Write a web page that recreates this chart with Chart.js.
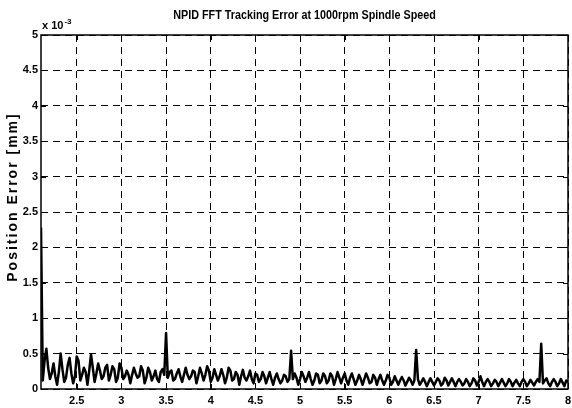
<!DOCTYPE html>
<html><head><meta charset="utf-8">
<script src="https://cdn.jsdelivr.net/npm/chart.js@4"></script>
<style>html,body{margin:0;padding:0;background:#fff}</style>
</head><body>
<canvas id="c" width="572" height="408" style="display:block;width:572px;height:408px"></canvas>
<script>
const chartTitle = 'NPID FFT Tracking Error at 1000rpm Spindle Speed';
const yAxisLabel = 'Position Error [mm]';
const yScaleNote = ['x 10', '-3'];

const frequency = [
 2.10,2.12,2.14,2.16,2.18,2.20,2.22,2.24,2.26,2.28,
 2.30,2.32,2.34,2.36,2.38,2.40,2.42,2.44,2.46,2.48,
 2.50,2.52,2.54,2.56,2.58,2.60,2.62,2.64,2.66,2.68,
 2.70,2.72,2.74,2.76,2.78,2.80,2.82,2.84,2.86,2.88,
 2.90,2.92,2.94,2.96,2.98,3.00,3.02,3.04,3.06,3.08,
 3.10,3.12,3.14,3.16,3.18,3.20,3.22,3.24,3.26,3.28,
 3.30,3.32,3.34,3.36,3.38,3.40,3.42,3.44,3.46,3.48,
 3.50,3.52,3.54,3.56,3.58,3.60,3.62,3.64,3.66,3.68,
 3.70,3.72,3.74,3.76,3.78,3.80,3.82,3.84,3.86,3.88,
 3.90,3.92,3.94,3.96,3.98,4.00,4.02,4.04,4.06,4.08,
 4.10,4.12,4.14,4.16,4.18,4.20,4.22,4.24,4.26,4.28,
 4.30,4.32,4.34,4.36,4.38,4.40,4.42,4.44,4.46,4.48,
 4.50,4.52,4.54,4.56,4.58,4.60,4.62,4.64,4.66,4.68,
 4.70,4.72,4.74,4.76,4.78,4.80,4.82,4.84,4.86,4.88,
 4.90,4.92,4.94,4.96,4.98,5.00,5.02,5.04,5.06,5.08,
 5.10,5.12,5.14,5.16,5.18,5.20,5.22,5.24,5.26,5.28,
 5.30,5.32,5.34,5.36,5.38,5.40,5.42,5.44,5.46,5.48,
 5.50,5.52,5.54,5.56,5.58,5.60,5.62,5.64,5.66,5.68,
 5.70,5.72,5.74,5.76,5.78,5.80,5.82,5.84,5.86,5.88,
 5.90,5.92,5.94,5.96,5.98,6.00,6.02,6.04,6.06,6.08,
 6.10,6.12,6.14,6.16,6.18,6.20,6.22,6.24,6.26,6.28,
 6.30,6.32,6.34,6.36,6.38,6.40,6.42,6.44,6.46,6.48,
 6.50,6.52,6.54,6.56,6.58,6.60,6.62,6.64,6.66,6.68,
 6.70,6.72,6.74,6.76,6.78,6.80,6.82,6.84,6.86,6.88,
 6.90,6.92,6.94,6.96,6.98,7.00,7.02,7.04,7.06,7.08,
 7.10,7.12,7.14,7.16,7.18,7.20,7.22,7.24,7.26,7.28,
 7.30,7.32,7.34,7.36,7.38,7.40,7.42,7.44,7.46,7.48,
 7.50,7.52,7.54,7.56,7.58,7.60,7.62,7.64,7.66,7.68,
 7.70,7.72,7.74,7.76,7.78,7.80,7.82,7.84,7.86,7.88,
 7.90,7.92,7.94,7.96,7.98,8.00
];

// position error, in units of 1e-3 mm
const positionError = [
 2.28,0.12,0.40,0.57,0.30,0.14,0.22,0.36,0.18,0.06,
 0.24,0.50,0.28,0.10,0.16,0.34,0.44,0.22,0.08,0.18,
 0.46,0.40,0.12,0.20,0.30,0.24,0.06,0.26,0.49,0.30,
 0.10,0.22,0.36,0.26,0.14,0.18,0.30,0.34,0.12,0.20,
 0.32,0.28,0.10,0.16,0.36,0.30,0.14,0.18,0.26,0.20,
 0.08,0.20,0.30,0.22,0.16,0.18,0.32,0.26,0.08,0.16,
 0.30,0.24,0.12,0.18,0.26,0.14,0.10,0.24,0.28,0.20,
 0.79,0.16,0.24,0.26,0.12,0.14,0.22,0.28,0.18,0.10,
 0.20,0.30,0.20,0.14,0.18,0.26,0.24,0.08,0.18,0.30,
 0.22,0.12,0.20,0.32,0.26,0.10,0.16,0.28,0.20,0.12,
 0.18,0.28,0.20,0.08,0.16,0.30,0.26,0.12,0.14,0.24,
 0.20,0.06,0.18,0.27,0.16,0.12,0.18,0.26,0.14,0.08,
 0.22,0.20,0.10,0.14,0.24,0.18,0.08,0.16,0.24,0.14,
 0.06,0.16,0.22,0.14,0.08,0.12,0.20,0.18,0.10,0.14,
 0.54,0.14,0.22,0.16,0.06,0.14,0.24,0.18,0.10,0.16,
 0.24,0.14,0.06,0.12,0.22,0.20,0.08,0.12,0.22,0.18,
 0.08,0.12,0.22,0.18,0.06,0.14,0.24,0.16,0.08,0.16,
 0.22,0.12,0.06,0.16,0.22,0.14,0.06,0.12,0.20,0.14,
 0.06,0.14,0.22,0.16,0.08,0.10,0.20,0.16,0.06,0.14,
 0.20,0.12,0.06,0.12,0.20,0.16,0.06,0.10,0.18,0.12,
 0.06,0.12,0.17,0.12,0.05,0.10,0.16,0.12,0.06,0.12,
 0.55,0.14,0.06,0.10,0.15,0.10,0.04,0.10,0.15,0.10,
 0.05,0.10,0.15,0.12,0.05,0.08,0.16,0.12,0.05,0.10,
 0.15,0.10,0.04,0.10,0.14,0.10,0.05,0.08,0.14,0.10,
 0.04,0.08,0.15,0.12,0.05,0.10,0.18,0.10,0.04,0.10,
 0.14,0.10,0.04,0.08,0.13,0.10,0.04,0.09,0.14,0.09,
 0.04,0.08,0.14,0.10,0.04,0.09,0.13,0.08,0.04,0.10,
 0.14,0.10,0.04,0.08,0.13,0.09,0.05,0.10,0.14,0.10,
 0.64,0.08,0.12,0.15,0.08,0.04,0.10,0.14,0.10,0.04,
 0.08,0.14,0.09,0.04,0.12,0.10
];

const xTicks = [2.5,3,3.5,4,4.5,5,5.5,6,6.5,7,7.5,8];
const yTicks = [0,0.5,1,1.5,2,2.5,3,3.5,4,4.5,5];
const xRange = [2.1, 8];
const yRange = [0, 5];

const FAM = '"Liberation Sans", Arial, Helvetica, sans-serif';
const tickSize = 11;

const frame = {
  id:'frame',
  afterDraw(chart){
    const {ctx, chartArea:a, scales} = chart;
    ctx.save();
    ctx.strokeStyle='#000'; ctx.lineWidth=1.5;
    ctx.strokeRect(a.left, a.top, a.right-a.left, a.bottom-a.top);
    ctx.lineWidth=1;
    ctx.beginPath();
    xTicks.forEach(v=>{const x=Math.round(scales.x.getPixelForValue(v))+0.5;
      ctx.moveTo(x,a.bottom); ctx.lineTo(x,a.bottom-5);
      ctx.moveTo(x,a.top); ctx.lineTo(x,a.top+5);});
    yTicks.forEach(v=>{const y=Math.round(scales.y.getPixelForValue(v))+0.5;
      ctx.moveTo(a.left,y); ctx.lineTo(a.left+5,y);
      ctx.moveTo(a.right,y); ctx.lineTo(a.right-5,y);});
    ctx.stroke();
    ctx.restore();

    // title (condensed)
    ctx.save();
    ctx.fillStyle='#000';
    ctx.font='bold 13px '+FAM;
    ctx.textAlign='center'; ctx.textBaseline='middle';
    ctx.translate((a.left+a.right)/2, 15);
    ctx.scale(0.83, 1);
    ctx.fillText(chartTitle, 0, 0);
    ctx.restore();

    // y axis label
    ctx.save();
    ctx.fillStyle='#000';
    ctx.font='bold 14px '+FAM;
    ctx.textAlign='center'; ctx.textBaseline='middle';
    ctx.translate(13, 197); ctx.rotate(-Math.PI/2);
    try{ ctx.letterSpacing = '2px'; }catch(e){}
    ctx.fillText(yAxisLabel, 0, 0);
    ctx.restore();

    // exponent note
    ctx.save();
    ctx.fillStyle='#000';
    ctx.textAlign='left'; ctx.textBaseline='alphabetic';
    ctx.font='bold '+tickSize+'px '+FAM;
    ctx.fillText(yScaleNote[0], a.left+1, 29);
    const w=ctx.measureText(yScaleNote[0]).width;
    ctx.font='bold 8px '+FAM;
    ctx.fillText(yScaleNote[1], a.left+1+w+1, 24);
    ctx.restore();
  }
};

new Chart(document.getElementById('c'), {
  type:'line',
  data:{ datasets:[{
    data: frequency.map((f,i)=>({x:f, y:positionError[i]})),
    borderColor:'#000', borderWidth:2.5, pointRadius:0, tension:0, fill:false,
    borderJoinStyle:'round'
  }]},
  options:{
    responsive:false, animation:false, devicePixelRatio:1,
    layout:{padding:{left:0,right:4,top:35,bottom:0}},
    plugins:{ legend:{display:false}, tooltip:{enabled:false}, title:{display:false} },
    scales:{
      x:{type:'linear', min:xRange[0], max:xRange[1],
        afterBuildTicks(s){ s.ticks = xTicks.map(v=>({value:v})); },
        afterFit(s){ s.height=19; s.paddingLeft=0; s.paddingRight=0; },
        ticks:{color:'#000', padding:5, maxRotation:0, autoSkip:false,
          font:{family:FAM, size:tickSize, weight:'bold'}, callback:v=>String(v)},
        grid:{color:'#000', lineWidth:1, drawTicks:false},
        border:{display:false, dash:[7,5]}
      },
      y:{type:'linear', min:yRange[0], max:yRange[1],
        afterBuildTicks(s){ s.ticks = yTicks.map(v=>({value:v})); },
        afterFit(s){ s.width=41; s.paddingTop=0; s.paddingBottom=0; },
        ticks:{color:'#000', padding:3, autoSkip:false,
          font:{family:FAM, size:tickSize, weight:'bold'}, callback:v=>String(v)},
        grid:{color:'#000', lineWidth:1, drawTicks:false},
        border:{display:false, dash:[7,5]}
      }
    }
  },
  plugins:[frame]
});
</script>
</body></html>
